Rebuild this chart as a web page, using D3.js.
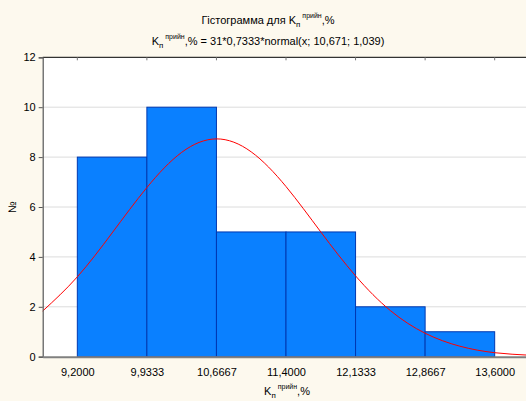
<!DOCTYPE html>
<html>
<head>
<meta charset="utf-8">
<script src="https://cdn.jsdelivr.net/npm/d3@7"></script>
<style>
  body { margin: 0; background: #fdf9ee; }
  svg { display: block; font-family: "Liberation Sans", Arial, sans-serif; }
</style>
</head>
<body>
<div id="chart"></div>
<script>
let width = 526
let height = 401

// histogram bins (class edges) and counts
const binEdges = [9.2, 9.9333, 10.6667, 11.4, 12.1333, 12.8667, 13.6]
const counts = [8, 10, 5, 5, 2, 1]
const tickLabels = ["9,2000", "9,9333", "10,6667", "11,4000", "12,1333", "12,8667", "13,6000"]
const yTicks = [0, 2, 4, 6, 8, 10, 12]

// fitted normal curve at half-class steps
const curveX = [8.835, 9.2, 9.5667, 9.9333, 10.3, 10.6667, 11.0333, 11.4, 11.7667, 12.1333, 12.5, 12.8667, 13.2333, 13.6, 13.9667]
const curveY = [1.83, 3.2, 4.96, 6.78, 8.19, 8.73, 8.21, 6.82, 5.0, 3.24, 1.85, 0.94, 0.42, 0.16, 0.06]

const margin = {left: 42.7, top: 57.3, bottom: 356.7}

let x = d3.scaleLinear().domain([8.835, 13.965]).range([margin.left, 529.3])
let y = d3.scaleLinear().domain([0, 12]).range([margin.bottom, margin.top])

let svg = d3.select("#chart").append("svg")
  .attr("width", width)
  .attr("height", height)

svg.append("rect")
  .attr("width", width).attr("height", height)
  .attr("fill", "#fdf9ee")

svg.append("rect")
  .attr("x", margin.left).attr("y", margin.top)
  .attr("width", width - margin.left + 5).attr("height", margin.bottom - margin.top)
  .attr("fill", "#ffffff")

// grid
svg.append("g")
  .selectAll("line")
  .data(yTicks.filter(d => d > 0 && d < 12))
  .join("line")
  .attr("x1", margin.left).attr("x2", width)
  .attr("y1", d => y(d)).attr("y2", d => y(d))
  .attr("stroke", "#dcdcdc")
  .attr("stroke-width", 1)

// bars
let bins = counts.map((c, i) => ({x0: binEdges[i], x1: binEdges[i + 1], n: c}))
svg.append("g")
  .selectAll("rect")
  .data(bins)
  .join("rect")
  .attr("x", d => x(d.x0))
  .attr("y", d => y(d.n))
  .attr("width", d => x(d.x1) - x(d.x0))
  .attr("height", d => y(0) - y(d.n))
  .attr("fill", "#0a80ff")
  .attr("stroke", "#0038b0")
  .attr("stroke-width", 1)

// normal curve
let line = d3.line()
  .x((d, i) => x(curveX[i]))
  .y(d => y(d))
  .curve(d3.curveNatural)

svg.append("path")
  .datum(curveY)
  .attr("d", line)
  .attr("fill", "none")
  .attr("stroke", "#ff0000")
  .attr("stroke-width", 1)

// frame: top black, left dark gray
svg.append("line")
  .attr("x1", margin.left).attr("x2", width)
  .attr("y1", margin.top).attr("y2", margin.top)
  .attr("stroke", "#000").attr("stroke-width", 1)

// top inner ticks
svg.append("g")
  .selectAll("line")
  .data(binEdges)
  .join("line")
  .attr("x1", d => x(d)).attr("x2", d => x(d))
  .attr("y1", margin.top).attr("y2", margin.top + 3)
  .attr("stroke", "#777")

// left axis
let yAxis = svg.append("g")
  .attr("transform", `translate(${margin.left},0)`)
  .call(d3.axisLeft(y).tickValues(yTicks).tickSize(4).tickPadding(3).tickFormat(d3.format("d")))
yAxis.select(".domain").attr("stroke", "#555").attr("stroke-width", 1.2)
yAxis.selectAll(".tick line").attr("stroke", "#555")
yAxis.selectAll("text").attr("font-size", 11).attr("fill", "#000")
  .attr("font-family", "Liberation Sans, Arial, sans-serif")

// bottom axis
let xAxis = svg.append("g")
  .attr("transform", `translate(0,${margin.bottom})`)
  .call(d3.axisBottom(x).tickValues(binEdges).tickSize(0).tickPadding(12)
    .tickFormat((d, i) => tickLabels[i]))
xAxis.select(".domain").attr("stroke", "#808080").attr("stroke-width", 2)
xAxis.selectAll("text").attr("font-size", 11).attr("fill", "#000")
  .attr("font-family", "Liberation Sans, Arial, sans-serif")

// K with subscript and superscript
function kLabel(sel) {
  sel.append("tspan").text("K")
  sel.append("tspan").text("п").attr("font-size", 8).attr("dy", 3)
  sel.append("tspan").text(" прийн").attr("font-size", 7).attr("dy", -9)
  sel.append("tspan").text(",%").attr("dy", 6)
}

let title = svg.append("text")
  .attr("x", 268).attr("y", 24)
  .attr("text-anchor", "middle")
  .attr("font-size", 11)
title.append("tspan").text("Гістограмма для ")
kLabel(title)

let sub = svg.append("text")
  .attr("x", 268).attr("y", 45)
  .attr("text-anchor", "middle")
  .attr("font-size", 11)
kLabel(sub)
sub.append("tspan").text(" = 31*0,7333*normal(x; 10,671; 1,039)")

let xTitle = svg.append("text")
  .attr("x", 287).attr("y", 395)
  .attr("text-anchor", "middle")
  .attr("font-size", 11)
kLabel(xTitle)

svg.append("text")
  .attr("transform", "translate(16,207) rotate(-90)")
  .attr("text-anchor", "middle")
  .attr("font-size", 11)
  .text("№")
</script>
</body>
</html>
